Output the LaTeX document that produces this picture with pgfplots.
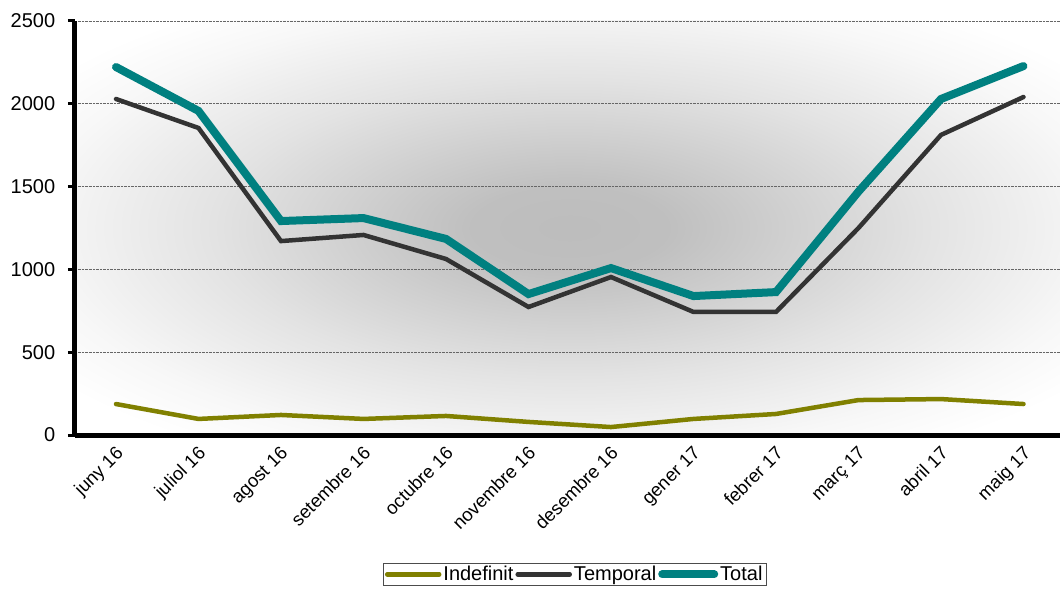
\documentclass[border=0pt]{standalone}
\usepackage{pgfplots}
\pgfplotsset{compat=1.18}
\usepackage{fontspec}
\setmainfont{Liberation Sans}

\definecolor{indefcol}{RGB}{128,128,0}
\definecolor{tempcol}{RGB}{51,51,51}
\definecolor{totcol}{RGB}{0,128,128}
\pgfdeclareradialshading{bgshade}{\pgfpoint{0bp}{0bp}}{color(0bp)=(black!26); color(5bp)=(black!25); color(18bp)=(black!11); color(27bp)=(black!3); color(32bp)=(white); color(50bp)=(white)}

\begin{document}
\begin{tikzpicture}
\begin{axis}[
    at={(0,0)}, anchor=south west,
    scale only axis,
    width=990bp, height=414bp,
    xmin=-0.5, xmax=11.5,
    ymin=0, ymax=2500,
    axis x line=bottom, axis y line=left,
    axis line style={-, line width=5bp, black},
    axis background/.style={shading=bgshade},
    xtick={0,...,11},
    xticklabels={juny 16, juliol 16, agost 16, setembre 16, octubre 16, novembre 16, desembre 16, gener 17, febrer 17, març 17, abril 17, maig 17},
    minor xtick={-0.5,0.5,...,11.5},
    xtick style={draw=none},
    minor x tick style={line width=3bp, black},
    ytick={0,500,...,2500},
    ytick style={line width=3bp, black},
    tick align=outside,
    major tick length=7bp, minor tick length=6bp,
    ymajorgrids,
    major grid style={densely dotted, line width=0.8bp, black!60},
    xticklabel style={rotate=45, anchor=north east, inner sep=1bp, xshift=-2bp, font=\fontsize{18.5bp}{20bp}\selectfont},
    yticklabel style={xshift=-9bp, font=\fontsize{20bp}{22bp}\selectfont},
    /pgf/number format/assume math mode=true,
    /pgf/number format/1000 sep={},
    legend columns=-1,
    legend style={at={(0.505,-0.309)}, anchor=north, draw=black!70, line width=0.8bp,
        font=\fontsize{20bp}{22bp}\selectfont, inner xsep=2bp, inner ysep=1bp,
        /tikz/column sep=0bp},
    legend image code/.code={\draw[#1, line cap=round] (0bp,0bp) -- (52bp,0bp);},
]

% Indefinit
\addplot[indefcol, line width=4.5bp, line cap=round] coordinates {
    (0,187) (1,97) (2,121) (3,97) (4,115) (5,79)
    (6,48) (7,97) (8,127) (9,211) (10,217) (11,187)
};
\addlegendentry{Indefinit}

% Temporal
\addplot[tempcol, line width=4.5bp, line cap=round] coordinates {
    (0,2029) (1,1854) (2,1171) (3,1208) (4,1063) (5,773)
    (6,954) (7,743) (8,743) (9,1250) (10,1812) (11,2041)
};
\addlegendentry{Temporal}

% Total
\addplot[totcol, line width=8bp, line cap=round] coordinates {
    (0,2222) (1,1957) (2,1292) (3,1310) (4,1184) (5,851)
    (6,1008) (7,839) (8,863) (9,1470) (10,2029) (11,2228)
};
\addlegendentry{Total}

\end{axis}
\pgfresetboundingbox
\path[use as bounding box] (-74.75bp,-156bp) rectangle (985.25bp,435bp);
\end{tikzpicture}
\end{document}
